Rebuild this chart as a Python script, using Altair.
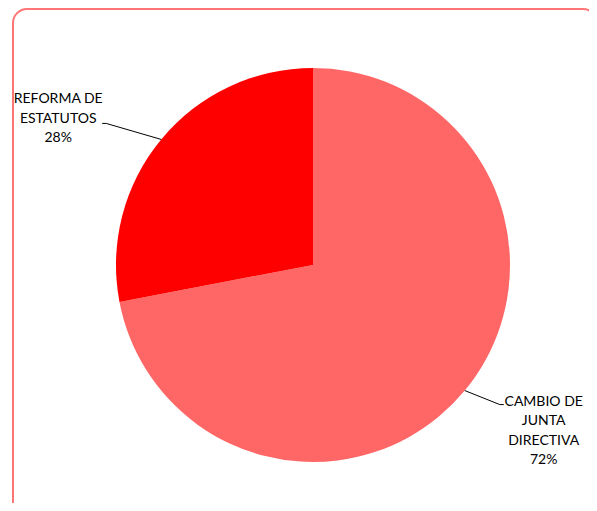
import math
import altair as alt
import pandas as pd

# ---- data ----
categories = ["CAMBIO DE JUNTA DIRECTIVA", "REFORMA DE ESTATUTOS"]
label_lines = [["CAMBIO DE", "JUNTA", "DIRECTIVA"], ["REFORMA DE", "ESTATUTOS"]]
values = [72, 28]
colors = ["#FF6666", "#FF0000"]

# ---- layout / style ----
W, H = 577, 495
CX, CY = 301, 257          # pie centre inside the view (px)
R = 197                    # pie radius
LEADER_DX = [35, 55]
LEADER_DY = [14, 16]
TAIL = [4, 4]
LABEL_DY = [3, 24]         # first text line relative to leader elbow
CHAR_W = 8.2
FONT = "Lato"
FRAME_COLOR = "#FF7474"

total = sum(values)
pie_rows, line_rows, text_rows = [], [], []
cum = 0
for i, (cat, v) in enumerate(zip(categories, values)):
    pie_rows.append({"category": cat, "value": v, "idx": i})
    mid = (cum + v / 2) / total
    cum += v
    a = 2 * math.pi * mid
    sx = 1 if math.sin(a) >= 0 else -1
    sy = 1 if math.cos(a) >= 0 else -1
    ex, ey = R * math.sin(a), R * math.cos(a)
    bx, by = ex + sx * LEADER_DX[i], ey + sy * LEADER_DY[i]
    tx = bx + sx * TAIL[i]
    for k, (px, py) in enumerate([(ex, ey), (bx, by), (tx, by)]):
        line_rows.append({"category": cat, "pt": k, "x": px, "y": py})
    lines = label_lines[i] + [f"{round(100 * v / total)}%"]
    half = max(len(s) for s in lines) * CHAR_W / 2
    lx = tx + sx * (half + 3)
    lx = max(min(lx, W - CX - half - 2), -CX + half + 2)   # keep inside the page
    text_rows.append({
        "category": cat,
        "x": lx,
        "y": by + LABEL_DY[i],
        "text": "\n".join(lines),
    })

pie_df = pd.DataFrame(pie_rows)
line_df = pd.DataFrame(line_rows)
text_df = pd.DataFrame(text_rows)

xs = alt.Scale(domain=[-CX, W - CX], nice=False, zero=False)
ys = alt.Scale(domain=[CY - H, CY], nice=False, zero=False)

# decorative chart-area frame (extends past the right/bottom edge, clipped)
frame = alt.Chart(pd.DataFrame({"k": [0]})).mark_rect(
    fillOpacity=0, stroke=FRAME_COLOR, strokeWidth=2, cornerRadius=14, clip=True,
).encode(
    x=alt.XDatum(-CX + 1, type="quantitative", scale=xs, axis=None),
    x2=alt.X2Datum(W - CX + 8),
    y=alt.YDatum(CY - 1, type="quantitative", scale=ys, axis=None),
    y2=alt.Y2Datum(CY - H - 20),
)

pie = alt.Chart(pie_df).mark_arc(outerRadius=R).encode(
    theta=alt.Theta("value:Q", stack=True),
    color=alt.Color("category:N", scale=alt.Scale(domain=categories, range=colors), legend=None),
    order=alt.Order("idx:Q"),
    x=alt.XDatum(0, type="quantitative", scale=xs, axis=None),
    y=alt.YDatum(0, type="quantitative", scale=ys, axis=None),
)

leaders = alt.Chart(line_df).mark_line(color="black", strokeWidth=1).encode(
    x=alt.X("x:Q", scale=xs, axis=None),
    y=alt.Y("y:Q", scale=ys, axis=None),
    detail="category:N",
    order="pt:Q",
)

labels = alt.Chart(text_df).mark_text(
    lineBreak="\n", font=FONT, fontSize=14, lineHeight=19.5,
    align="center", baseline="middle", color="#000000",
).encode(
    x=alt.X("x:Q", scale=xs, axis=None),
    y=alt.Y("y:Q", scale=ys, axis=None),
    text="text:N",
)

chart = alt.layer(frame, pie, leaders, labels).properties(
    width=W, height=H,
    autosize=alt.AutoSizeParams(type="none"),
    padding={"left": 4, "top": 0, "right": 0, "bottom": 0},
).configure_view(
    strokeWidth=0,
)

chart.save("out.html", embed_options={"renderer": "svg", "actions": False})
